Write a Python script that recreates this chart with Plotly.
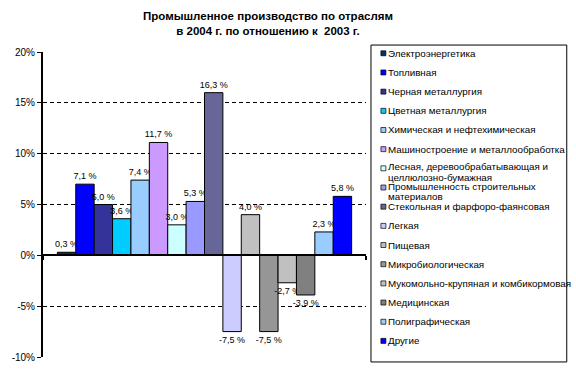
import plotly.graph_objects as go

# ---- data ----
names = [
    "Электроэнергетика",
    "Топливная",
    "Черная металлургия",
    "Цветная металлургия",
    "Химическая и нефтехимическая",
    "Машиностроение и металлообработка",
    "Лесная, деревообрабатывающая и<br>целлюлозно-бумажная",
    "Промышленность строительных<br>материалов",
    "Стекольная и фарфоро-фаянсовая",
    "Легкая",
    "Пищевая",
    "Микробиологическая",
    "Мукомольно-крупяная и комбикормовая",
    "Медицинская",
    "Полиграфическая",
    "Другие",
]
values = [0.3, 7.0, 5.0, 3.6, 7.4, 11.1, 3.0, 5.3, 16.0, -7.5, 4.0, -7.5, -2.7, -3.9, 2.3, 5.8]
labels = ["0,3 %", "7,1 %", "5,0 %", "3,6 %", "7,4 %", "11,7 %", "3,0 %", "5,3 %", "16,3 %",
          "-7,5 %", "4,0 %", "-7,5 %", "-2,7 %", "-3,9 %", "2,3 %", "5,8 %"]
colors = ["#003366", "#0000FF", "#333399", "#00CCFF", "#99CCFF", "#CC99FF", "#CCFFFF", "#9999FF",
          "#666699", "#CCCCFF", "#C0C0C0", "#969696", "#C0C0C0", "#808080", "#99CCFF", "#0000FF"]
y_ticks = [-10, -5, 0, 5, 10, 15, 20]
y_ticktext = ["-10%", "-5%", "0%", "5%", "10%", "15%", "20%"]
title_text = "Промышленное производство по отраслям<br>в 2004 г. по отношению к  2003 г."

FONT = "Liberation Sans, Arial, sans-serif"
W, H = 576, 375
ML, MR, MT, MB = 41, 210, 52, 16
PW, PH = W - ML - MR, H - MT - MB
LEG_FS = 9.8


def px_x(px):
    return (px - ML) / PW


def px_y(py):
    return (H - MB - py) / PH


fig = go.Figure()
for name, v, lab, c in zip(names, values, labels, colors):
    fig.add_trace(go.Bar(
        x=[0], y=[v], name=name.replace("<br>", " "), text=[lab], textposition="outside",
        textfont=dict(family=FONT, size=9, color="black"),
        constraintext="none", cliponaxis=False,
        marker=dict(color=c, line=dict(color="black", width=1)),
        showlegend=False,
    ))

# manual legend box
shapes = [dict(type="rect", xref="paper", yref="paper",
               x0=px_x(371), x1=px_x(568), y0=px_y(364), y1=px_y(45),
               line=dict(color="black", width=1), fillcolor="white", layer="below")]
annotations = []
slot0, step = 53.3, 19.3
for i, (name, c) in enumerate(zip(names, colors)):
    sy = slot0 + i * step
    shapes.append(dict(type="rect", xref="paper", yref="paper",
                       x0=px_x(381), x1=px_x(386), y0=px_y(sy + 2.5), y1=px_y(sy - 2.5),
                       line=dict(color="black", width=0.7), fillcolor=c))
    parts = name.split("<br>")
    offsets = [0] if len(parts) == 1 else [-1.5, 9.5]
    for part, off in zip(parts, offsets):
        annotations.append(dict(xref="paper", yref="paper", x=px_x(386), y=px_y(sy + off),
                                xanchor="left", yanchor="middle", showarrow=False,
                                text=part, font=dict(family=FONT, size=LEG_FS, color="black")))

fig.update_layout(
    width=W, height=H,
    margin=dict(l=ML, r=MR, t=MT, b=MB),
    paper_bgcolor="white", plot_bgcolor="white",
    barmode="group", bargap=0.089, bargroupgap=0,
    title=dict(text=title_text, x=268 / W, xanchor="center", y=1 - 20 / H, yanchor="middle",
               font=dict(family=FONT, size=11.5, color="black", weight="bold")),
    xaxis=dict(range=[-0.5, 0.5], anchor="free", position=1 / 3, showline=True,
               linecolor="black", linewidth=2, tickvals=[-0.5, 0.5], ticks="outside",
               ticklen=4, tickcolor="black", tickwidth=2, showticklabels=False,
               showgrid=False, zeroline=False, fixedrange=True),
    yaxis=dict(range=[-10, 20], tickvals=y_ticks, ticktext=y_ticktext, showline=True,
               linecolor="black", linewidth=2, ticks="outside", ticklen=4, tickcolor="black",
               tickfont=dict(family=FONT, size=10, color="black"),
               showgrid=True, gridcolor="black", gridwidth=1, griddash="4px,3px",
               zeroline=False, fixedrange=True),
    shapes=shapes, annotations=annotations,
    font=dict(family=FONT, color="black"),
)

fig.write_html("out.html", config={"displayModeBar": False},
               post_script="document.body.style.margin='0';")
